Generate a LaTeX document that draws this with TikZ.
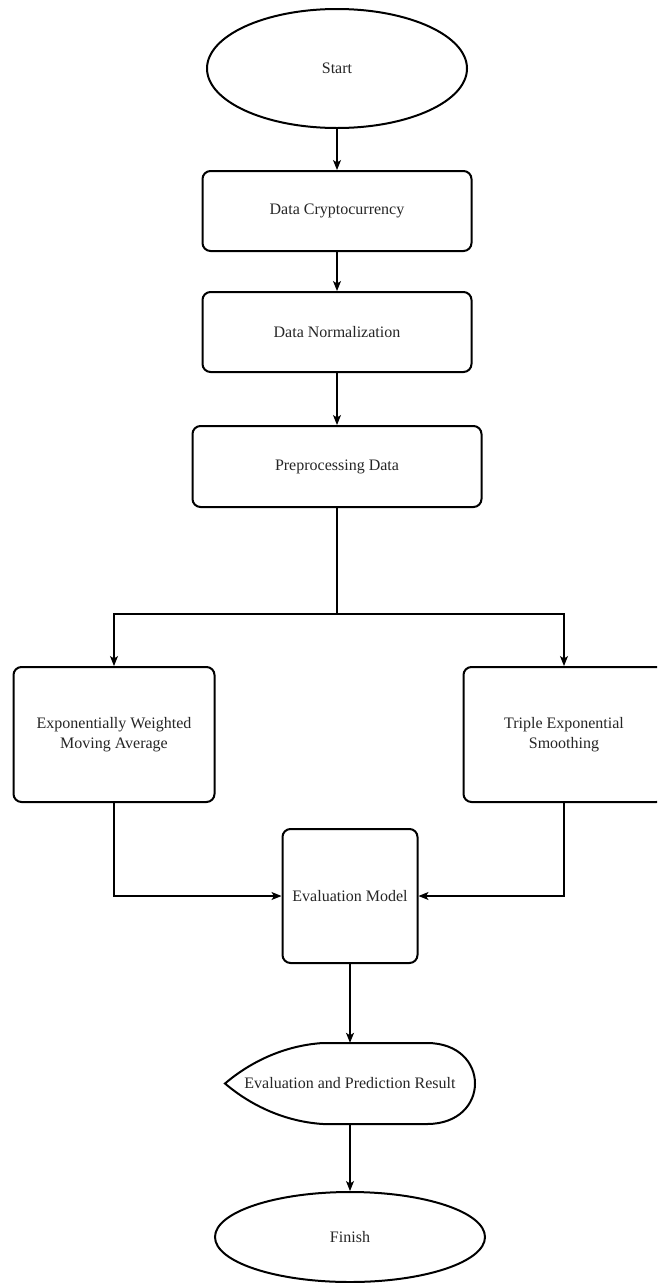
\documentclass[tikz,border=0pt]{standalone}
\usepackage{fontspec}
\setmainfont{Liberation Serif}
\usetikzlibrary{arrows.meta,shapes.geometric}
\tikzset{
  boxnode/.style={draw, line width=2pt, rounded corners=8pt, align=center,
    inner sep=0pt, text=black!85, font=\fontsize{16}{20}\selectfont, fill=white},
  ovalnode/.style={draw, ellipse, line width=2pt, inner sep=0pt,
    text=black!85, font=\fontsize{16}{20}\selectfont},
  plainnode/.style={inner sep=0pt, text=black!85, font=\fontsize{16}{20}\selectfont},
  arr/.style={line width=1.1pt, -{Stealth[length=10pt,width=8pt,inset=2.5pt]}},
  ln/.style={line width=1.1pt}
}
\begin{document}
\begin{tikzpicture}[x=1pt,y=-1pt]
\clip (0,0) rectangle (657,1283);
\fill[white] (0,0) rectangle (657,1283);

\node[ovalnode, minimum width=260pt, minimum height=119pt] (start) at (337,68.5) {Start};
\node[boxnode, minimum width=269pt, minimum height=80pt] (crypto) at (337,211) {Data Cryptocurrency};
\node[boxnode, minimum width=269pt, minimum height=80pt] (norm) at (337,332) {Data Normalization};
\node[boxnode, minimum width=289pt, minimum height=81pt] (pre) at (337,466.5) {Preprocessing Data};
\node[boxnode, minimum width=201pt, minimum height=135pt] (ewma) at (114,734.5) {Exponentially Weighted\\Moving Average};
\node[boxnode, minimum width=201pt, minimum height=135pt] (tes) at (564,734.5) {Triple Exponential\\Smoothing};
\node[boxnode, minimum width=135pt, minimum height=134pt] (eval) at (350,896) {Evaluation Model};

% display shape
\draw[line width=2pt, fill=white] (225,1083.5) .. controls (255,1058) and (290,1045) .. (323,1043)
  -- (427,1043) .. controls (491,1043) and (491,1124) .. (427,1124)
  -- (323,1124) .. controls (290,1122) and (255,1109) .. cycle;
\node[plainnode, minimum width=250pt, minimum height=81pt] (res) at (350,1083.5) {Evaluation and Prediction Result};

\node[ovalnode, minimum width=270pt, minimum height=90pt] (fin) at (350,1237) {Finish};

\draw[arr] (start) -- (crypto);
\draw[arr] (crypto) -- (norm);
\draw[arr] (norm) -- (pre);
\coordinate (split) at (337,614);
\draw[ln] (pre) -- (split);
\draw[arr] (split) -| (ewma);
\draw[arr] (split) -| (tes);
\draw[arr] (ewma) |- (eval);
\draw[arr] (tes) |- (eval);
\draw[arr] (eval) -- (res);
\draw[arr] (res) -- (fin);
\end{tikzpicture}
\end{document}
